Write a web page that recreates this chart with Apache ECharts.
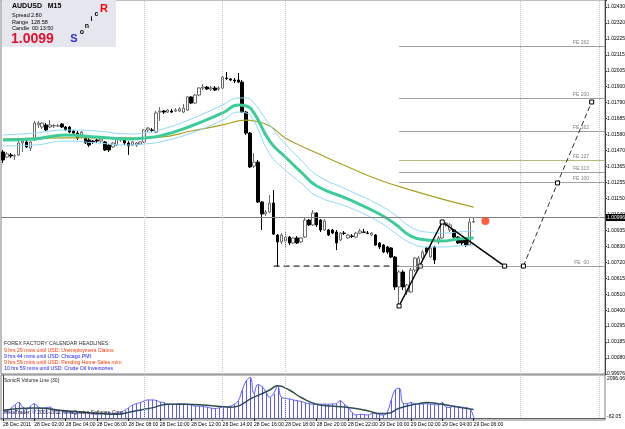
<!DOCTYPE html>
<html>
<head>
<meta charset="utf-8">
<title>AUDUSD M15</title>
<script src="https://cdn.jsdelivr.net/npm/echarts@6/dist/echarts.min.js"></script>
<style>
  html, body { margin: 0; padding: 0; background: #fff; }
  #chart { width: 625px; height: 429px; }
</style>
</head>
<body>
<div id="chart"></div>
<script>
// bar slots on the x axis (121 candles + empty space on the right)
const SLOTS = 154;

// bottom time labels, one every 8 bars (2 hours)
const timeLabels = ['28 Dec 2011', '28 Dec 02:00', '28 Dec 04:00', '28 Dec 06:00', '28 Dec 08:00',
  '28 Dec 10:00', '28 Dec 12:00', '28 Dec 14:00', '28 Dec 16:00', '28 Dec 18:00', '28 Dec 20:00',
  '28 Dec 22:00', '29 Dec 00:00', '29 Dec 02:00', '29 Dec 04:00', '29 Dec 06:00'];

// right price scale labels, bottom to top
const priceTickLabels = ['0.99976', '1.00080', '1.00185', '1.00295', '1.00400', '1.00510', '1.00615',
  '1.00720', '1.00830', '1.00935', '1.01040', '1.01150', '1.01255', '1.01365', '1.01470', '1.01580',
  '1.01685', '1.01790', '1.01900', '1.02005', '1.02115', '1.02225', '1.02320', '1.02430'];
const priceMin = 0.999424, priceMax = 1.024706;

// volume window scale
const volTickLabels = [-62.05, 2096.06];

// AUDUSD M15 candles: [open, high, low, close]
const candles = [
  [1.01443,1.01457,1.01369,1.01389],[1.01409,1.01443,1.01403,1.01430],[1.01423,1.01436,1.01403,1.01416],
  [1.01416,1.01430,1.01389,1.01418],[1.01423,1.01517,1.01416,1.01504],[1.01504,1.01538,1.01443,1.01517],
  [1.01511,1.01524,1.01470,1.01477],[1.01470,1.01517,1.01450,1.01511],[1.01524,1.01653,1.01517,1.01639],
  [1.01626,1.01653,1.01605,1.01639],[1.01612,1.01646,1.01598,1.01639],[1.01626,1.01639,1.01585,1.01592],
  [1.01612,1.01659,1.01605,1.01626],[1.01619,1.01632,1.01605,1.01621],[1.01619,1.01632,1.01612,1.01620],
  [1.01632,1.01639,1.01605,1.01612],[1.01612,1.01619,1.01585,1.01592],[1.01612,1.01619,1.01571,1.01578],
  [1.01585,1.01592,1.01565,1.01571],[1.01571,1.01585,1.01524,1.01538],[1.01544,1.01585,1.01538,1.01578],
  [1.01538,1.01551,1.01497,1.01504],[1.01524,1.01538,1.01477,1.01490],[1.01517,1.01524,1.01497,1.01511],
  [1.01524,1.01531,1.01504,1.01517],[1.01517,1.01538,1.01504,1.01531],[1.01511,1.01517,1.01450,1.01457],
  [1.01490,1.01497,1.01443,1.01457],[1.01477,1.01511,1.01470,1.01504],[1.01490,1.01538,1.01484,1.01531],
  [1.01524,1.01544,1.01511,1.01531],[1.01531,1.01538,1.01490,1.01504],[1.01504,1.01517,1.01423,1.01484],
  [1.01490,1.01517,1.01484,1.01511],[1.01490,1.01511,1.01477,1.01504],[1.01497,1.01517,1.01490,1.01511],
  [1.01511,1.01598,1.01504,1.01592],[1.01592,1.01612,1.01578,1.01605],[1.01592,1.01605,1.01578,1.01590],
  [1.01578,1.01720,1.01571,1.01707],[1.01713,1.01747,1.01653,1.01720],[1.01720,1.01727,1.01700,1.01713],
  [1.01713,1.01734,1.01707,1.01727],[1.01720,1.01734,1.01707,1.01713],[1.01720,1.01740,1.01713,1.01727],
  [1.01720,1.01747,1.01713,1.01734],[1.01713,1.01768,1.01707,1.01740],[1.01727,1.01821,1.01720,1.01815],
  [1.01815,1.01821,1.01768,1.01774],[1.01774,1.01835,1.01768,1.01828],[1.01828,1.01882,1.01821,1.01876],
  [1.01876,1.01903,1.01862,1.01882],[1.01882,1.01889,1.01862,1.01869],[1.01869,1.01889,1.01855,1.01876],
  [1.01876,1.01889,1.01855,1.01862],[1.01869,1.01889,1.01855,1.01876],[1.01876,1.01957,1.01869,1.01950],
  [1.01943,1.01984,1.01930,1.01940],[1.01937,1.01943,1.01923,1.01930],[1.01930,1.01943,1.01909,1.01923],
  [1.01930,1.01977,1.01909,1.01916],[1.01916,1.01930,1.01707,1.01713],[1.01713,1.01720,1.01558,1.01571],
  [1.01571,1.01578,1.01335,1.01342],[1.01348,1.01436,1.01335,1.01375],[1.01375,1.01389,1.01098,1.01105],
  [1.01105,1.01111,1.00916,1.01024],[1.01024,1.01051,1.01010,1.01037],[1.01037,1.01152,1.01031,1.01098],
  [1.01098,1.01186,1.00882,1.00888],[1.00882,1.00888,1.00666,1.00835],[1.00835,1.00895,1.00821,1.00882],
  [1.00841,1.00902,1.00794,1.00868],[1.00868,1.00875,1.00814,1.00828],[1.00828,1.00868,1.00821,1.00862],
  [1.00862,1.00875,1.00821,1.00828],[1.00835,1.00868,1.00828,1.00862],[1.00868,1.00997,1.00862,1.00983],
  [1.00983,1.00990,1.00943,1.00950],[1.00950,1.01051,1.00943,1.01031],[1.01031,1.01037,1.00936,1.00950],
  [1.00983,1.00990,1.00902,1.00916],[1.00916,1.00990,1.00909,1.00977],[1.00916,1.00923,1.00875,1.00882],
  [1.00916,1.00923,1.00888,1.00895],[1.00902,1.00916,1.00780,1.00828],[1.00848,1.00902,1.00841,1.00895],
  [1.00895,1.00909,1.00882,1.00893],[1.00862,1.00888,1.00855,1.00882],[1.00875,1.00888,1.00862,1.00873],
  [1.00868,1.00902,1.00862,1.00895],[1.00895,1.00923,1.00888,1.00909],[1.00902,1.00923,1.00895,1.00900],
  [1.00895,1.00909,1.00888,1.00893],[1.00882,1.00902,1.00875,1.00895],[1.00882,1.00888,1.00808,1.00814],
  [1.00828,1.00835,1.00787,1.00801],[1.00814,1.00821,1.00760,1.00767],[1.00801,1.00808,1.00754,1.00767],
  [1.00794,1.00801,1.00726,1.00733],[1.00733,1.00740,1.00510,1.00531],[1.00531,1.00645,1.00395,1.00632],
  [1.00632,1.00645,1.00510,1.00531],[1.00497,1.00551,1.00476,1.00544],[1.00497,1.00659,1.00490,1.00645],
  [1.00645,1.00733,1.00632,1.00726],[1.00659,1.00740,1.00645,1.00726],[1.00726,1.00780,1.00713,1.00767],
  [1.00794,1.00801,1.00754,1.00767],[1.00733,1.00808,1.00726,1.00794],[1.00801,1.00808,1.00686,1.00713],
  [1.00835,1.00875,1.00821,1.00862],[1.00862,1.00977,1.00855,1.00963],[1.00950,1.00970,1.00936,1.00963],
  [1.00916,1.00963,1.00902,1.00950],[1.00916,1.00923,1.00862,1.00868],[1.00868,1.00875,1.00821,1.00828],
  [1.00848,1.00862,1.00814,1.00828],[1.00862,1.00868,1.00801,1.00814],[1.00814,1.00997,1.00808,1.00970],
  [1.00970,1.00997,1.00963,1.00972]
];
const bidLabel = '1.00996';

// moving averages, read at sample bars: [bar, price]
const emaMid = [[0,1.01524],[8,1.01531],[16,1.01558],[24,1.01544],[32,1.01531],[36,1.01538],[40,1.01551],
  [48,1.01619],[56,1.01707],[60,1.01761],[62,1.01754],[64,1.01707],[68,1.01517],[72,1.01409],[76,1.01308],
  [80,1.01213],[88,1.01125],[96,1.01024],[100,1.00956],[104,1.00875],[108,1.00848],[112,1.00841],[116,1.00855],[120,1.00862]];
const emaHigh = [[0,1.01558],[8,1.01571],[16,1.01592],[24,1.01585],[32,1.01565],[36,1.01571],[40,1.01592],
  [48,1.01666],[56,1.01761],[60,1.01808],[62,1.01808],[64,1.01774],[68,1.01626],[72,1.01497],[76,1.01389],
  [80,1.01288],[88,1.01186],[96,1.01085],[100,1.01017],[104,1.00936],[108,1.00902],[112,1.00895],[116,1.00902],[120,1.00909]];
const emaLow = [[0,1.01484],[8,1.01490],[16,1.01517],[24,1.01504],[32,1.01490],[36,1.01497],[40,1.01511],
  [48,1.01571],[56,1.01659],[60,1.01713],[62,1.01707],[64,1.01653],[68,1.01430],[72,1.01321],[76,1.01234],
  [80,1.01146],[88,1.01071],[96,1.00970],[100,1.00895],[104,1.00828],[108,1.00801],[112,1.00801],[116,1.00808],[120,1.00814]];
const emaSlow = [[0,1.01531],[16,1.01538],[32,1.01538],[40,1.01544],[48,1.01585],[56,1.01626],[60,1.01653],
  [62,1.01659],[64,1.01653],[68,1.01619],[72,1.01538],[76,1.01484],[80,1.01436],[88,1.01342],[96,1.01254],
  [104,1.01186],[112,1.01125],[120,1.01071]];

// zigzag and fibo expansion drawing: [bar, price]
const zigzag = [[101,1.00402],[112,1.00970],[127.9,1.00672]];
const zigzagCross = [[106.4,1.00672]];
const supportDash = [[69,1.00672],[101,1.00672]];
const projection = [[132.7,1.00672],[141.4,1.01234],[150.1,1.01781]];
const alertDot = [[123,1.00977]];
const feNames = ['FE 262', 'FE 200', 'FE 162', 'FE 127', 'FE 113', 'FE 100', 'FE  00'];
const feLevels = [1.02160, 1.01808, 1.01585, 1.01389, 1.01308, 1.01240, 1.00672];
const feStart = 101;

// session separators (bar index)
const sessionBars = [36, 56, 72, 132, 152];

// SonicR volume line
const volume = [385,350,500,650,780,560,450,600,720,560,
  500,530,555,420,390,380,349,330,262,280,
  313,300,250,220,210,240,262,270,262,262,
  300,400,520,650,720,775,850,899,899,880,
  800,775,700,693,700,724,700,693,650,606,
  606,580,555,510,488,520,555,580,606,700,
  863,1377,1803,1978,1207,1634,1546,1300,1032,1207,
  1546,1032,980,950,900,863,830,760,724,693,
  693,693,700,693,710,724,863,700,555,300,
  179,210,200,179,240,262,200,179,330,900,
  1377,1464,750,720,775,720,693,710,724,693,
  680,657,775,560,540,606,580,555,530,480,
  50];
const volumeMa = [[0,400],[8,519],[16,385],[25,246],[29,210],[33,349],[38,519],[42,693],[47,693],[52,642],
  [58,555],[64,1032],[68,1377],[70,1582],[73,1377],[76,1017],[80,693],[84,606],[89,519],[93,380],
  [96,250],[98,250],[101,500],[106,724],[108,775],[112,693],[116,555],[120,436]];

const news = [
  { text: 'FOREX FACTORY CALENDAR HEADLINES:', color: '#303030' },
  { text: '9 hrs 29 mins until USD: Unemployment Claims', color: '#ff3300' },
  { text: '9 hrs 44 mins until USD: Chicago PMI', color: '#2020ff' },
  { text: '9 hrs 59 mins until USD: Pending Home Sales m/m', color: '#ff3300' },
  { text: '10 hrs 59 mins until USD: Crude Oil Inventories', color: '#2020ff' }
];

const FONT = '"Liberation Sans", Arial, sans-serif';
const VOL_BLUE = '#5a5aff';
const categories = Array.from({ length: SLOTS }, (_, i) => String(i));
const lastClose = candles[candles.length - 1][3];
const isLabelBar = i => i % 8 === 0 && i / 8 < timeLabels.length;

const chart = echarts.init(document.getElementById('chart'), null, { renderer: 'canvas' });

const dotted = { color: '#c4c4d8', type: 'dotted', width: 1 };
const hollowSquare = { color: '#fff', borderColor: '#000', borderWidth: 1 };

const graphic = [
  { type: 'rect', shape: { x: 2, y: 0, width: 114, height: 47 }, style: { fill: '#e6e6ef' }, z: 100 },
  { type: 'text', x: 12, y: 6, z: 101, style: { text: 'AUDUSD   M15', font: 'bold 7px ' + FONT, fill: '#000', verticalAlign: 'middle' } },
  { type: 'text', x: 12, y: 15, z: 101, style: { text: 'Spread', font: '5.5px ' + FONT, fill: '#000', verticalAlign: 'middle' } },
  { type: 'text', x: 31, y: 15, z: 101, style: { text: '2.80', font: '5.5px ' + FONT, fill: '#000', verticalAlign: 'middle' } },
  { type: 'text', x: 12, y: 22, z: 101, style: { text: 'Range', font: '5.5px ' + FONT, fill: '#000', verticalAlign: 'middle' } },
  { type: 'text', x: 31, y: 22, z: 101, style: { text: '128.58', font: '5.5px ' + FONT, fill: '#000', verticalAlign: 'middle' } },
  { type: 'text', x: 12, y: 28.5, z: 101, style: { text: 'Candle', font: '5.5px ' + FONT, fill: '#000', verticalAlign: 'middle' } },
  { type: 'text', x: 32, y: 28.5, z: 101, style: { text: '00:13:50', font: '5.5px ' + FONT, fill: '#000', verticalAlign: 'middle' } },
  { type: 'text', x: 11, y: 39, z: 101, style: { text: '1.0099', font: 'bold 14px ' + FONT, fill: '#e4102c', verticalAlign: 'middle' } },
  { type: 'text', x: 74, y: 39, z: 101, style: { text: 'S', font: 'bold 11px ' + FONT, fill: '#3333cc', align: 'center', verticalAlign: 'middle' } },
  { type: 'text', x: 82, y: 32, z: 101, style: { text: 'o', font: 'bold 7px ' + FONT, fill: '#000', align: 'center', verticalAlign: 'middle' } },
  { type: 'text', x: 87, y: 26, z: 101, style: { text: 'n', font: 'bold 7px ' + FONT, fill: '#000', align: 'center', verticalAlign: 'middle' } },
  { type: 'text', x: 91.5, y: 19.5, z: 101, style: { text: 'i', font: 'bold 7px ' + FONT, fill: '#000', align: 'center', verticalAlign: 'middle' } },
  { type: 'text', x: 96.5, y: 14.5, z: 101, style: { text: 'c', font: 'bold 7px ' + FONT, fill: '#000', align: 'center', verticalAlign: 'middle' } },
  { type: 'text', x: 104, y: 9, z: 101, style: { text: 'R', font: 'bold 11px ' + FONT, fill: '#ff0000', align: 'center', verticalAlign: 'middle' } },
  { type: 'text', x: 4, y: 381, z: 101, style: { text: 'SonicR Volume Line (30)', font: '5px ' + FONT, fill: '#202020', verticalAlign: 'middle' } },
  { type: 'text', x: 4, y: 413, z: 101, style: { text: 'MetaTrader, \u00a9 2001-2011 MetaQuotes Software Corp.', font: '5px ' + FONT, fill: '#202020', verticalAlign: 'middle' } }
];
news.forEach((n, k) => {
  graphic.push({ type: 'text', x: 4, y: 344 + k * 6.2, z: 101,
    style: { text: n.text, font: '5.2px ' + FONT, fill: n.color, verticalAlign: 'middle' } });
});

const feMarks = feLevels.map((p, k) => [
  { coord: [feStart, p], lineStyle: { color: k === 3 ? '#b8b878' : '#a0a0a0', type: 'solid', width: 1 },
    label: { show: true, position: 'insideEndTop', formatter: feNames[k], color: '#808080',
             fontSize: 5, fontFamily: FONT, padding: [0, 15, 0, 0], distance: 1 } },
  { coord: [SLOTS - 0.5, p] }
]);

// one thin vertical stroke per bar for the volume histogram
function volumeStick(params, api) {
  const top = api.coord([api.value(0), api.value(1)]);
  const base = api.coord([api.value(0), 0]);
  const x = Math.round(top[0]) + 0.5;
  return { type: 'line', shape: { x1: x, y1: base[1], x2: x, y2: top[1] },
           style: { stroke: VOL_BLUE, lineWidth: 1 } };
}

const option = {
  animation: false,
  backgroundColor: '#ffffff',
  textStyle: { fontFamily: FONT },
  graphic: graphic,
  grid: [
    { left: 1, right: 20, top: 0, height: 374, show: true, borderColor: '#808080', borderWidth: 1,
      containLabel: false, outerBoundsMode: 'none' },
    { left: 1, right: 20, top: 375, height: 45, show: true, borderColor: '#808080', borderWidth: 1,
      containLabel: false, outerBoundsMode: 'none' }
  ],
  xAxis: [
    { type: 'category', gridIndex: 0, data: categories, boundaryGap: true, show: false },
    { type: 'value', gridIndex: 0, min: -0.5, max: SLOTS - 0.5, show: false },
    { type: 'category', gridIndex: 1, data: categories, boundaryGap: true,
      axisLine: { show: true, lineStyle: { color: '#606060' } },
      axisTick: { show: true, alignWithLabel: true, length: 2, interval: i => isLabelBar(i), lineStyle: { color: '#000' } },
      axisLabel: { interval: i => isLabelBar(i), align: 'left', margin: 2, fontSize: 5, color: '#000',
                   fontFamily: FONT, formatter: v => timeLabels[Number(v) / 8] || '' } },
    { type: 'value', gridIndex: 1, min: -0.5, max: SLOTS - 0.5, show: false }
  ],
  yAxis: [
    { type: 'value', gridIndex: 0, min: priceMin, max: priceMax, scale: true, show: false },
    { type: 'value', gridIndex: 0, position: 'right', offset: 0, min: 0, max: 374 / 15.96, interval: 1,
      splitLine: { show: false },
      axisLine: { show: true, lineStyle: { color: '#404040' } },
      axisTick: { show: true, length: 2, lineStyle: { color: '#404040' } },
      axisLabel: { margin: 2, fontSize: 5, color: '#000', fontFamily: FONT,
        formatter: v => Math.abs(v - Math.round(v)) < 1e-6 ? (priceTickLabels[Math.round(v)] || '') : '' } },
    { type: 'value', gridIndex: 1, position: 'right', offset: 0, min: volTickLabels[0], max: volTickLabels[1],
      splitLine: { show: false },
      axisLine: { show: true, lineStyle: { color: '#404040' } },
      axisTick: { show: false },
      axisLabel: { margin: 2, fontSize: 5, color: '#000', fontFamily: FONT,
        formatter: v => {
          if (Math.abs(v - volTickLabels[1]) < 1e-6) return '{top|' + volTickLabels[1].toFixed(2) + '}';
          if (Math.abs(v - volTickLabels[0]) < 1e-6) return '{bot|' + volTickLabels[0].toFixed(2) + '}';
          return '';
        },
        rich: { top: { fontSize: 5, padding: [8, 0, 0, 0] }, bot: { fontSize: 5, padding: [0, 0, 6, 0] } } } }
  ],
  series: [
    {
      name: 'AUDUSD', type: 'candlestick', xAxisIndex: 0, yAxisIndex: 0, barWidth: 3,
      data: candles.map(c => [c[0], c[3], c[2], c[1]]),
      itemStyle: { color: '#ffffff', color0: '#000000', borderColor: '#6a6a6a', borderColor0: '#000000', borderWidth: 1 },
      markLine: {
        silent: true, symbol: 'none', animation: false,
        data: [
          { yAxis: lastClose, lineStyle: { color: '#808080', type: 'solid', width: 1 },
            label: { show: true, position: 'end', formatter: bidLabel, backgroundColor: '#000', color: '#fff',
                     fontSize: 5, fontFamily: FONT, padding: [1, 1], distance: 1 } }
        ].concat(sessionBars.map(i => ({ xAxis: i, lineStyle: dotted, label: { show: false } })))
      }
    },
    { name: 'slow', type: 'line', xAxisIndex: 1, yAxisIndex: 0, data: emaSlow, smooth: true, symbol: 'none',
      lineStyle: { color: '#a8a020', width: 1.2 }, z: 3 },
    { name: 'high', type: 'line', xAxisIndex: 1, yAxisIndex: 0, data: emaHigh, smooth: true, symbol: 'none',
      lineStyle: { color: '#8fd8f8', width: 1 }, z: 3 },
    { name: 'low', type: 'line', xAxisIndex: 1, yAxisIndex: 0, data: emaLow, smooth: true, symbol: 'none',
      lineStyle: { color: '#8fd8f8', width: 1 }, z: 3 },
    { name: 'mid', type: 'line', xAxisIndex: 1, yAxisIndex: 0, data: emaMid, smooth: true, symbol: 'none',
      lineStyle: { color: '#3ccc9a', width: 3 }, z: 3 },
    { name: 'support', type: 'line', xAxisIndex: 1, yAxisIndex: 0, data: supportDash, symbol: 'none',
      lineStyle: { color: '#000', width: 1, type: [6, 4] }, z: 4 },
    { name: 'zigzag', type: 'line', xAxisIndex: 1, yAxisIndex: 0, data: zigzag, symbol: 'rect', symbolSize: 4,
      itemStyle: hollowSquare, lineStyle: { color: '#000', width: 1.5 }, z: 6,
      markLine: { silent: true, symbol: 'none', animation: false, data: feMarks } },
    { name: 'cross', type: 'scatter', xAxisIndex: 1, yAxisIndex: 0, data: zigzagCross, symbol: 'rect', symbolSize: 4,
      itemStyle: hollowSquare, z: 7 },
    { name: 'projection', type: 'line', xAxisIndex: 1, yAxisIndex: 0, data: projection, symbol: 'rect', symbolSize: 4,
      itemStyle: hollowSquare, lineStyle: { color: '#303030', width: 1, type: [5, 3] }, z: 6 },
    { name: 'alert', type: 'scatter', xAxisIndex: 1, yAxisIndex: 0, data: alertDot, symbol: 'circle', symbolSize: 8,
      itemStyle: { color: '#ff3a10' }, z: 7 },
    {
      name: 'volume', type: 'custom', xAxisIndex: 2, yAxisIndex: 2,
      data: volume.map((v, i) => [i, v]), encode: { x: 0, y: 1 }, renderItem: volumeStick,
      markLine: { silent: true, symbol: 'none', animation: false,
        data: sessionBars.map(i => ({ xAxis: i, lineStyle: dotted, label: { show: false } })) }
    },
    { name: 'volumeLine', type: 'line', xAxisIndex: 2, yAxisIndex: 2, data: volume, smooth: true, symbol: 'none',
      lineStyle: { color: VOL_BLUE, width: 1 }, z: 3 },
    { name: 'volumeMa', type: 'line', xAxisIndex: 3, yAxisIndex: 2, data: volumeMa, smooth: true, symbol: 'none',
      lineStyle: { color: '#2f4f4f', width: 1.5 }, z: 4 }
  ]
};

chart.setOption(option);
</script>
</body>
</html>
